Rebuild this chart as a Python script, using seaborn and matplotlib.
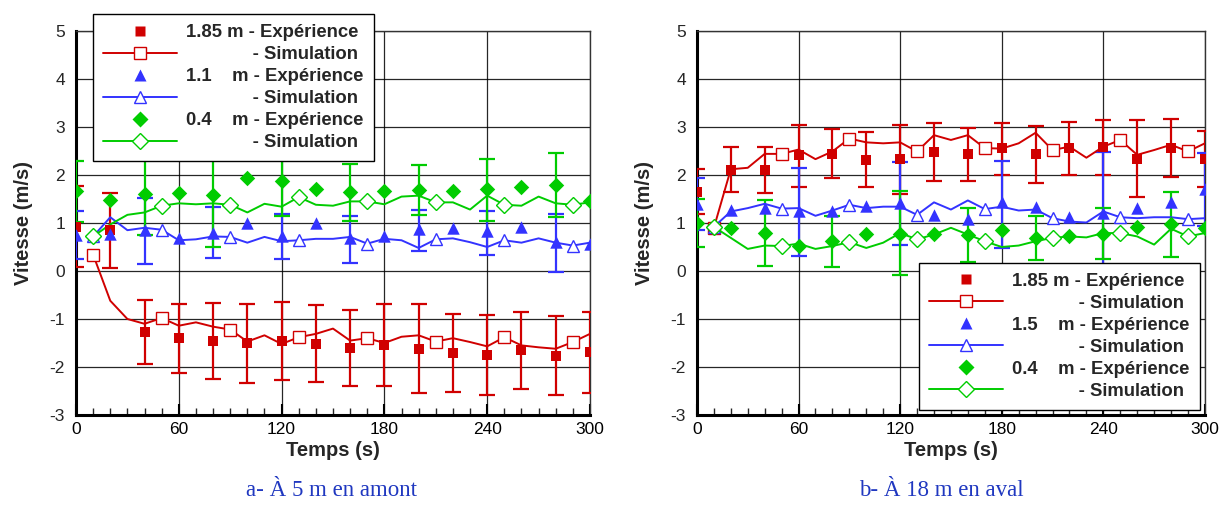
import numpy as np
import pandas as pd
import seaborn as sns
import matplotlib
matplotlib.use("Agg")
import matplotlib.pyplot as plt
from matplotlib.lines import Line2D
from matplotlib.ticker import MultipleLocator
from matplotlib.font_manager import FontProperties

sns.set_theme(style="white")
plt.rcParams["font.family"] = ["Liberation Sans", "DejaVu Sans"]
plt.rcParams["axes.unicode_minus"] = False

# ---------------- data ----------------
t_exp = list(range(0, 301, 20))
t_sim = list(range(10, 301, 10))

# panel a (5 m upstream)
a_red_exp = [0.91, 0.86, -1.28, -1.40, -1.46, -1.50, -1.46, -1.52, -1.61, -1.54, -1.62, -1.71, -1.74, -1.64, -1.77, -1.69]
a_red_lo = [0.08, 0.07, -1.94, -2.12, -2.25, -2.33, -2.27, -2.32, -2.39, -2.40, -2.55, -2.53, -2.59, -2.45, -2.59, -2.54]
a_red_hi = [1.78, 1.63, -0.61, -0.68, -0.66, -0.68, -0.65, -0.71, -0.81, -0.69, -0.69, -0.89, -0.92, -0.86, -0.94, -0.85]
a_red_sim = [0.34, -0.62, -1.00, -1.10, -0.98, -1.14, -1.07, -1.16, -1.22, -1.47, -1.34, -1.52, -1.38, -1.31, -1.20,
             -1.45, -1.40, -1.50, -1.37, -1.34, -1.47, -1.40, -1.48, -1.57, -1.38, -1.55, -1.59, -1.62, -1.48, -1.31]

a_blue_exp = [0.76, 0.77, 0.85, 0.69, 0.79, 0.99, 0.72, 1.00, 0.68, 0.72, 0.88, 0.90, 0.84, 0.92, 0.60, 0.57]
a_blue_err_t = [0, 40, 80, 120, 160, 200, 240, 280]
a_blue_err_lo = [0.24, 0.15, 0.28, 0.26, 0.17, 0.41, 0.34, -0.03]
a_blue_err_hi = [1.24, 1.52, 1.34, 1.19, 1.14, 1.28, 1.24, 1.19]
a_blue_sim = [0.72, 1.12, 0.85, 0.90, 0.86, 0.64, 0.66, 0.72, 0.71, 0.59, 0.71, 0.62, 0.64, 0.67, 0.67,
              0.71, 0.57, 0.67, 0.64, 0.48, 0.66, 0.68, 0.60, 0.50, 0.64, 0.59, 0.68, 0.59, 0.53, 0.59]

a_green_exp = [1.66, 1.48, 1.61, 1.62, 1.59, 1.93, 1.88, 1.70, 1.64, 1.67, 1.69, 1.67, 1.70, 1.76, 1.79, 1.45]
a_green_err_t = [0, 40, 80, 120, 160, 200, 240, 280]
a_green_err_lo = [1.02, 0.74, 0.50, 1.15, 1.05, 1.17, 1.05, 1.12]
a_green_err_hi = [2.30, 2.48, 2.68, 2.61, 2.22, 2.21, 2.34, 2.45]
a_green_sim = [0.72, 0.97, 1.17, 1.22, 1.36, 1.41, 1.39, 1.41, 1.38, 1.22, 1.40, 1.34, 1.54, 1.38, 1.36,
               1.45, 1.45, 1.39, 1.55, 1.57, 1.43, 1.43, 1.28, 1.57, 1.38, 1.36, 1.55, 1.41, 1.38, 1.43]

# panel b (18 m downstream)
b_red_exp = [1.64, 2.10, 2.10, 2.42, 2.44, 2.31, 2.33, 2.47, 2.44, 2.56, 2.44, 2.56, 2.59, 2.33, 2.56, 2.33]
b_red_lo = [1.18, 1.64, 1.62, 1.76, 1.93, 1.74, 1.60, 1.88, 1.88, 2.01, 1.84, 2.01, 2.01, 1.55, 1.95, 1.76]
b_red_hi = [2.12, 2.59, 2.59, 3.04, 2.95, 2.89, 3.04, 3.08, 2.97, 3.08, 3.02, 3.10, 3.15, 3.14, 3.17, 2.92]
b_red_sim = [0.90, 2.12, 2.15, 2.44, 2.44, 2.53, 2.33, 2.49, 2.76, 2.68, 2.66, 2.68, 2.49, 2.83, 2.73,
             2.83, 2.56, 2.55, 2.66, 2.88, 2.52, 2.59, 2.36, 2.59, 2.73, 2.42, 2.52, 2.63, 2.49, 2.66]

b_blue_exp = [1.40, 1.28, 1.31, 1.26, 1.24, 1.36, 1.41, 1.17, 1.08, 1.43, 1.34, 1.12, 1.21, 1.31, 1.43, 1.70]
b_blue_err_t = [0, 60, 120, 180, 240, 300]
b_blue_err_lo = [0.85, 0.32, 0.55, 0.48, -0.06, 0.94]
b_blue_err_hi = [1.93, 2.15, 2.28, 2.30, 2.48, 2.46]
b_blue_sim = [0.92, 1.24, 1.31, 1.40, 1.30, 1.31, 1.15, 1.26, 1.38, 1.31, 1.34, 1.34, 1.17, 1.43, 1.28,
              1.47, 1.29, 1.34, 1.26, 1.28, 1.10, 1.03, 1.01, 1.24, 1.12, 1.10, 1.12, 1.12, 1.08, 1.10]

b_green_exp = [1.00, 0.90, 0.79, 0.53, 0.63, 0.77, 0.77, 0.78, 0.74, 0.85, 0.69, 0.72, 0.78, 0.91, 0.97, 0.90]
b_green_err_t = [0, 40, 80, 120, 160, 200, 240, 280]
b_green_err_lo = [0.50, 0.10, 0.08, -0.09, 0.19, 0.22, 0.24, 0.30]
b_green_err_hi = [1.50, 1.48, 1.15, 1.66, 1.32, 1.14, 1.32, 1.64]
b_green_sim = [0.92, 0.69, 0.46, 0.53, 0.52, 0.57, 0.46, 0.52, 0.60, 0.48, 0.59, 0.79, 0.66, 0.76, 0.90,
               0.76, 0.62, 0.50, 0.53, 0.62, 0.69, 0.72, 0.70, 0.79, 0.79, 0.72, 0.55, 0.88, 0.72, 0.79]

a_labels = ["1.85 m - Expérience", "             - Simulation",
            "1.1    m - Expérience", "             - Simulation",
            "0.4    m - Expérience", "             - Simulation"]
b_labels = ["1.85 m - Expérience", "             - Simulation",
            "1.5    m - Expérience", "             - Simulation",
            "0.4    m - Expérience", "             - Simulation"]
captions = ["a- À 5 m en amont", "b- À 18 m en aval"]

RED, BLUE, GREEN = "#D00000", "#3333FF", "#00CC00"
EXP_MK = {"red": ("s", 62), "blue": ("^", 80), "green": ("D", 62)}
SIM_MK = {"red": ("s", 8.5), "blue": ("^", 9), "green": ("D", 8)}

fig = plt.figure(figsize=(12.24, 5.15), dpi=100)
ax_a = fig.add_axes([0.0621, 0.1942, 0.4199, 0.7456])
ax_b = fig.add_axes([0.5694, 0.1942, 0.4150, 0.7456])


def draw_err(ax, t, mid, lo, hi, color):
    mid = np.asarray(mid, float)
    yerr = np.vstack([mid - np.asarray(lo), np.asarray(hi) - mid])
    ax.errorbar(t, mid, yerr=yerr, fmt="none", ecolor=color, elinewidth=1.6,
                capsize=5.5, capthick=1.6, zorder=3)


def panel(ax, series, labels, legend_kw):
    handles = []
    for key, color, exp, sim in series:
        sns.lineplot(x=t_sim, y=sim, ax=ax, color=color, lw=1.4, zorder=4,
                     marker=SIM_MK[key][0], markevery=4, ms=SIM_MK[key][1],
                     mfc="white", mec=color, mew=1.0, estimator=None)
        sns.scatterplot(x=t_exp, y=exp, ax=ax, color=color, marker=EXP_MK[key][0],
                        s=EXP_MK[key][1], linewidth=0, zorder=5)
        handles.append(Line2D([], [], ls="none", marker=EXP_MK[key][0], color=color,
                              ms=np.sqrt(EXP_MK[key][1]), mec="none"))
        handles.append(Line2D([], [], ls="-", lw=1.4, color=color, marker=SIM_MK[key][0],
                              ms=SIM_MK[key][1], mfc="white", mec=color, mew=1.0))
    ax.set_xlim(0, 300)
    ax.set_ylim(-3, 5)
    ax.xaxis.set_major_locator(MultipleLocator(60))
    ax.xaxis.set_minor_locator(MultipleLocator(10))
    ax.yaxis.set_major_locator(MultipleLocator(1))
    ax.grid(True, which="major", color="black", lw=0.9, alpha=0.85)
    ax.tick_params(axis="x", which="major", direction="in", length=8, width=1.5,
                   bottom=True, top=False, labelsize=12.5, pad=5, colors="black")
    ax.tick_params(axis="x", which="minor", direction="in", length=5, width=1,
                   bottom=True, top=False)
    ax.tick_params(axis="y", which="major", direction="in", length=0, left=True,
                   labelsize=12.5, pad=8)
    for s in ["left", "bottom"]:
        ax.spines[s].set_linewidth(2.2)
        ax.spines[s].set_color("black")
    for s in ["top", "right"]:
        ax.spines[s].set_linewidth(1.0)
        ax.spines[s].set_color("#333333")
    ax.set_xlabel("Temps (s)", fontsize=14.5, fontweight="bold", labelpad=3)
    ax.set_ylabel("Vitesse (m/s)", fontsize=14.5, fontweight="bold", labelpad=12)
    prop = FontProperties(family=["Liberation Sans", "DejaVu Sans"], weight="bold", size=13.3)
    leg = ax.legend(handles, labels, prop=prop,
                    handlelength=4.0, handletextpad=0.5, labelspacing=0.27,
                    borderpad=0.55, borderaxespad=0, fancybox=False, framealpha=1,
                    edgecolor="black", **legend_kw)
    leg.get_frame().set_linewidth(1.0)
    leg.set_zorder(10)


# error bars first
draw_err(ax_a, t_exp, a_red_exp, a_red_lo, a_red_hi, RED)
a_bi = [t_exp.index(t) for t in a_blue_err_t]
draw_err(ax_a, a_blue_err_t, [a_blue_exp[i] for i in a_bi], a_blue_err_lo, a_blue_err_hi, BLUE)
a_gi = [t_exp.index(t) for t in a_green_err_t]
draw_err(ax_a, a_green_err_t, [a_green_exp[i] for i in a_gi], a_green_err_lo, a_green_err_hi, GREEN)

draw_err(ax_b, t_exp, b_red_exp, b_red_lo, b_red_hi, RED)
b_bi = [t_exp.index(t) for t in b_blue_err_t]
draw_err(ax_b, b_blue_err_t, [b_blue_exp[i] for i in b_bi], b_blue_err_lo, b_blue_err_hi, BLUE)
b_gi = [t_exp.index(t) for t in b_green_err_t]
draw_err(ax_b, b_green_err_t, [b_green_exp[i] for i in b_gi], b_green_err_lo, b_green_err_hi, GREEN)

panel(ax_a, [("red", RED, a_red_exp, a_red_sim),
             ("blue", BLUE, a_blue_exp, a_blue_sim),
             ("green", GREEN, a_green_exp, a_green_sim)],
      a_labels, dict(loc="upper left", bbox_to_anchor=(0.033, 1.044)))
panel(ax_b, [("red", RED, b_red_exp, b_red_sim),
             ("blue", BLUE, b_blue_exp, b_blue_sim),
             ("green", GREEN, b_green_exp, b_green_sim)],
      b_labels, dict(loc="lower right", bbox_to_anchor=(0.99, 0.013)))

for x, txt in zip([0.271, 0.769], captions):
    fig.text(x, 0.048, txt, ha="center", va="center", fontsize=16.5,
             family=["Liberation Serif", "DejaVu Serif"], color="#2038C0")

fig.savefig("out.png", dpi=100)
